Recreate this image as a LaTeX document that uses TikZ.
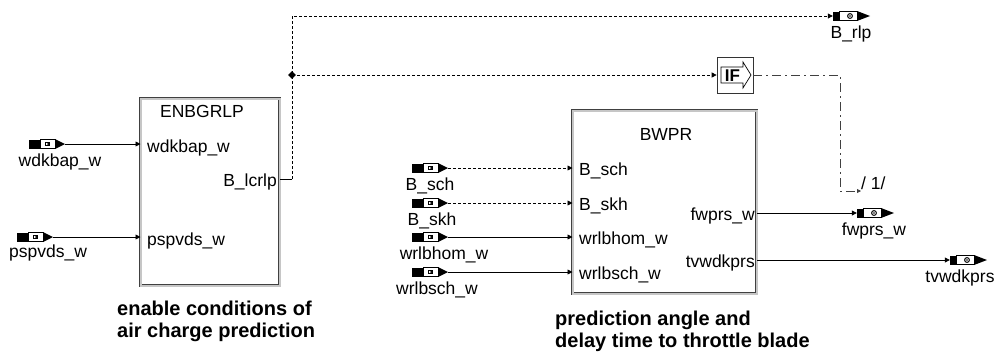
\documentclass[tikz,border=0pt]{standalone}
\usepackage{fontspec}
\setmainfont{Liberation Sans}
\usetikzlibrary{arrows.meta,shapes.geometric}
\begin{document}
\begin{tikzpicture}[x=1pt,y=-1pt,
  lbl/.style={font=\fontsize{17.5}{20}\selectfont, inner sep=0pt},
  captxt/.style={font=\fontsize{20}{22}\selectfont\bfseries, align=left, inner sep=0pt},
  blk/.style={draw=black!75, line width=0.6pt, double=gray!45, double distance=1.6pt, inner sep=0pt},
  wire/.style={line width=0.8pt},
  sig/.style={wire, -{Triangle[length=5pt,width=5pt]}},
  dotl/.style={dash pattern=on 3pt off 2pt},
  dashdotl/.style={dash pattern=on 9pt off 4pt on 2pt off 4pt, draw=black!75},
  inport/.style={minimum width=36pt, minimum height=10pt, inner sep=0pt,
    path picture={
      \fill[black] ([shift={(0pt,0.5pt)}]path picture bounding box.south west) rectangle ++(11pt,9pt);
      \draw[line width=0.9pt, fill=white] ([shift={(11pt,0.9pt)}]path picture bounding box.south west) rectangle ++(15pt,8.2pt);
      \fill[black] ([shift={(16pt,3pt)}]path picture bounding box.south west) rectangle ++(4.5pt,4pt);
      \fill[white] ([shift={(17pt,3.8pt)}]path picture bounding box.south west) -- ++(2.5pt,1.2pt) -- ++(-2.5pt,1.2pt) -- cycle;
      \fill[black] ([shift={(26pt,0pt)}]path picture bounding box.south west) -- ([shift={(36pt,5pt)}]path picture bounding box.south west) -- ([shift={(26pt,10pt)}]path picture bounding box.south west) -- cycle;
    }},
  outport/.style={minimum width=37pt, minimum height=10pt, inner sep=0pt,
    path picture={
      \fill[black] ([shift={(0pt,0.5pt)}]path picture bounding box.south west) rectangle ++(6pt,9pt);
      \draw[line width=0.9pt, fill=white] ([shift={(6pt,0.9pt)}]path picture bounding box.south west) rectangle ++(18pt,8.2pt);
      \draw[line width=1pt] ([shift={(17pt,5pt)}]path picture bounding box.south west) circle (2.4pt);
      \fill[black] ([shift={(17pt,5pt)}]path picture bounding box.south west) circle (0.8pt);
      \fill[black] ([shift={(24pt,0pt)}]path picture bounding box.south west) -- ([shift={(37pt,5pt)}]path picture bounding box.south west) -- ([shift={(24pt,10pt)}]path picture bounding box.south west) -- cycle;
    }},
]
\useasboundingbox (0,0) rectangle (1004,354);

% ---------- ENBGRLP block ----------
\node[blk, minimum width=139pt, minimum height=187pt, anchor=north west] (enb) at (140.5,98.5) {};
\node[lbl, anchor=base] (enbt) at (202,117) {ENBGRLP};
\node[lbl, anchor=base west] (e1) at (147,152) {wdkbap\_w};
\node[lbl, anchor=base west] (e2) at (147,245) {pspvds\_w};
\node[lbl, anchor=base east] (e3) at (277,186.5) {B\_lcrlp};

\node[inport] (p1) at (47,144) {};
\node[lbl, anchor=base] (p1l) at (60,166) {wdkbap\_w};
\node[inport] (p2) at (35,237) {};
\node[lbl, anchor=base] (p2l) at (48,257) {pspvds\_w};

\draw[sig] (p1.east) -- (p1.east -| enb.west);
\draw[sig] (p2.east) -- (p2.east -| enb.west);

% ---------- BWPR block ----------
\node[blk, minimum width=184pt, minimum height=183pt, anchor=north west] (bw) at (572.5,110.5) {};
\node[lbl, anchor=base] (bwt) at (666,140) {BWPR};
\node[lbl, anchor=base west] (b1) at (579,175) {B\_sch};
\node[lbl, anchor=base west] (b2) at (579,210) {B\_skh};
\node[lbl, anchor=base west] (b3) at (579,244) {wrlbhom\_w};
\node[lbl, anchor=base west] (b4) at (579,279) {wrlbsch\_w};
\node[lbl, anchor=base east] (b5) at (755,220) {fwprs\_w};
\node[lbl, anchor=base east] (b6) at (755,267) {tvwdkprs};

\node[inport] (q1) at (430,168) {};
\node[lbl, anchor=base] (q1l) at (430,190) {B\_sch};
\node[inport] (q2) at (430,203) {};
\node[lbl, anchor=base] (q2l) at (432,225) {B\_skh};
\node[inport] (q3) at (430,237) {};
\node[lbl, anchor=base] (q3l) at (444,259) {wrlbhom\_w};
\node[inport] (q4) at (430,272) {};
\node[lbl, anchor=base] (q4l) at (437,294) {wrlbsch\_w};

\draw[sig, dotl] (q1.east) -- (q1.east -| bw.west);
\draw[sig, dotl] (q2.east) -- (q2.east -| bw.west);
\draw[sig] (q3.east) -- (q3.east -| bw.west);
\draw[sig] (q4.east) -- (q4.east -| bw.west);

\node[outport] (fw) at (875.5,213) {};
\node[lbl, anchor=base] (fwl) at (874,235) {fwprs\_w};
\node[outport] (tv) at (968.5,260) {};
\node[lbl, anchor=base] (tvl) at (960,282) {tvwdkprs};

\draw[sig] (bw.east |- fw) -- (fw.west);
\draw[sig] (bw.east |- tv) -- (tv.west);

% ---------- B_rlp output and IF ----------
\node[outport] (br) at (851.5,16) {};
\node[lbl, anchor=base] (brl) at (851,38) {B\_rlp};

\coordinate (c1) at (292,179);
\node[diamond, fill=black, inner sep=0pt, minimum size=8pt] (jn) at (292,75) {};

\node[draw=black!80, line width=0.7pt, minimum size=36pt, inner sep=0pt] (ifb) at (735,75) {};
\draw[line width=0.7pt] (721,67) -- (743,67) -- (743,62) -- (751,75) -- (743,88) -- (743,83) -- (721,83) -- cycle;
\node[font=\fontsize{17}{17}\selectfont\bfseries, inner sep=0pt, anchor=base] (ift) at (732.5,81.5) {IF};

\draw[wire] (enb.east |- c1) -- (c1);
\draw[sig, dotl] (c1) -- (jn.center) -- (jn.center |- br) -- (br.west);
\draw[sig, dotl] (jn.center) -- (ifb.west);

\coordinate (c2) at (840,191);
\coordinate (c3) at (861,191);
\draw[wire, dashdotl, -{Triangle[length=4pt,width=4pt]}] (ifb.east) -- (ifb.east -| c2) -- (c2) -- (c3);
\node[lbl, anchor=base west] (one) at (861,189) {/ 1/};

% ---------- captions ----------
\node[captxt, anchor=north west] (cap1) at (117,300.5) {enable conditions of\\air charge prediction};
\node[captxt, anchor=north west] (cap2) at (555,311) {prediction angle and\\delay time to throttle blade};
\end{tikzpicture}
\end{document}
